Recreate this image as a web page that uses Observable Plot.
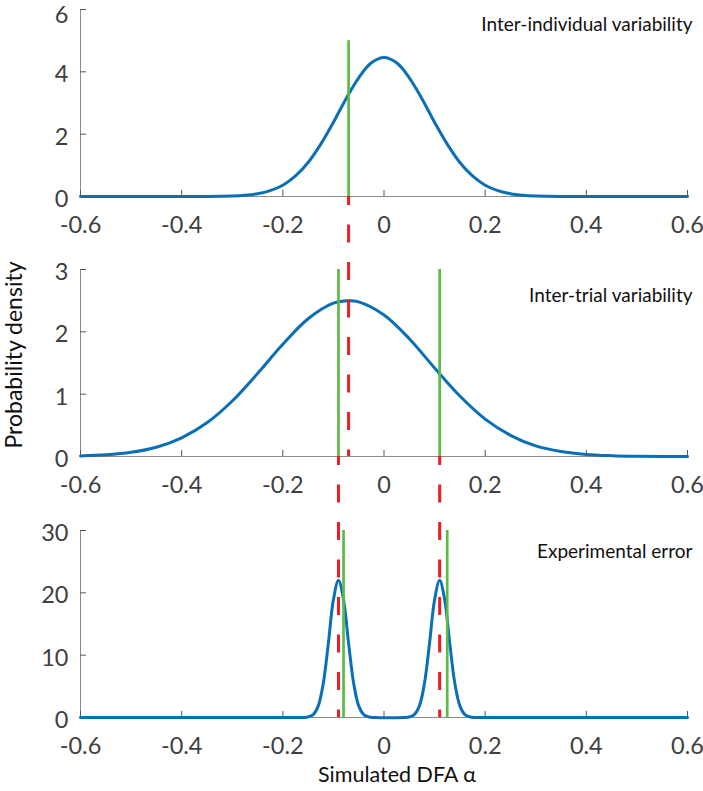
<!DOCTYPE html>
<html>
<head>
<meta charset="utf-8">
<script src="https://cdn.jsdelivr.net/npm/d3@7"></script>
<script src="https://cdn.jsdelivr.net/npm/@observablehq/plot@0.6"></script>
<style>
  html, body { margin: 0; padding: 0; background: #fff; }
  #wrap { position: relative; width: 703px; height: 791px; font-family: Lato, "Open Sans", sans-serif; }
  #wrap svg { display: block; }
  .ylab { position: absolute; left: 13px; top: 355px; transform: translate(-50%, -50%) rotate(-90deg); white-space: nowrap; font-size: 23px; line-height: 1; color: #111; }
  .xlab { position: absolute; left: 318px; top: 763px; white-space: nowrap; font-size: 21.5px; line-height: 1.1; color: #111; }
</style>
</head>
<body>
<div id="wrap"></div>
<script>
// ---- data ----
const xTicks = [-0.6, -0.4, -0.2, 0, 0.2, 0.4, 0.6];
const yTicks1 = [0, 2, 4, 6];
const yTicks2 = [0, 1, 2, 3];
const yTicks3 = [0, 10, 20, 30];

const labels = ["Inter-individual variability", "Inter-trial variability", "Experimental error"];

// Panel 1: inter-individual variability density
const x1 = [-0.6, -0.35, -0.3, -0.275, -0.25, -0.225, -0.2, -0.175, -0.15, -0.125, -0.1, -0.075, -0.05, -0.025, 0,
            0.025, 0.05, 0.075, 0.1, 0.125, 0.15, 0.175, 0.2, 0.225, 0.25, 0.275, 0.3, 0.35, 0.6];
const y1 = [0, 0.003, 0.016, 0.039, 0.089, 0.19, 0.36, 0.66, 1.09, 1.68, 2.38, 3.14, 3.81, 4.29, 4.46,
            4.29, 3.81, 3.14, 2.38, 1.68, 1.09, 0.66, 0.36, 0.19, 0.089, 0.039, 0.016, 0.003, 0];
const green1 = [-0.07];
const greenTop1 = 5;

// Panel 2: inter-trial variability density
const x2 = [-0.6, -0.55, -0.5, -0.45, -0.4, -0.35, -0.3, -0.25, -0.2, -0.15, -0.1, -0.07, -0.05, 0,
            0.05, 0.1, 0.15, 0.2, 0.25, 0.3, 0.35, 0.4, 0.45, 0.5, 0.55, 0.6];
const y2 = [0.01, 0.028, 0.068, 0.149, 0.30, 0.54, 0.89, 1.33, 1.80, 2.21, 2.46, 2.50, 2.48, 2.27,
            1.89, 1.42, 0.97, 0.60, 0.34, 0.17, 0.08, 0.033, 0.013, 0.004, 0.001, 0];
const green2 = [-0.09, 0.11];
const greenTop2 = 3;
const red2 = [-0.07];

// Panel 3: experimental error densities
const x3 = [-0.6, -0.17, -0.16, -0.15, -0.14, -0.13, -0.12, -0.11, -0.1, -0.09, -0.08, -0.07, -0.06, -0.05, -0.04, -0.03, -0.02,
            0.04, 0.05, 0.06, 0.07, 0.08, 0.09, 0.1, 0.11, 0.12, 0.13, 0.14, 0.15, 0.16, 0.17, 0.18, 0.19, 0.6];
const y3 = [0, 0, 0.01, 0.09, 0.46, 1.86, 5.49, 11.9, 18.9, 22, 18.9, 11.9, 5.49, 1.86, 0.46, 0.09, 0.01,
            0.01, 0.09, 0.46, 1.86, 5.49, 11.9, 18.9, 22, 18.9, 11.9, 5.49, 1.86, 0.46, 0.09, 0.01, 0, 0];
const green3 = [-0.08, 0.125];
const greenTop3 = 30;
const red3 = [-0.09, 0.11];

// ---- drawing ----
const BLUE = "#0a6fb7", GREEN = "#5cba47", RED = "#ee1c25";
const AXIS = "#8a8a8a", TEXT = "#404040";
const W = 703, ML = 80, MR = 16, FH = 187;
const FW = W - ML - MR;

function panel({xs, ys, yTicks, topDy, greens, greenTop, reds, redReach, label, labelDy, marginTop, marginBottom}) {
  const data = xs.map((x, i) => ({x, y: ys[i]}));
  const lower = yTicks.slice(0, -1), top = yTicks.slice(-1);
  const yAxisOpts = {tickSize: 0, tickPadding: 12, tickFormat: d => String(d), label: null, fill: TEXT};
  return Plot.plot({
    width: W,
    height: marginTop + FH + marginBottom,
    marginLeft: ML, marginRight: MR, marginTop, marginBottom,
    style: {overflow: "visible", fontFamily: "Lato, 'Open Sans', sans-serif", fontSize: "23.5px", background: "transparent"},
    x: {domain: [-0.6, 0.6]},
    y: {domain: [yTicks[0], yTicks[yTicks.length - 1]]},
    marks: [
      Plot.ruleY([yTicks[0]], {stroke: AXIS, strokeWidth: 1}),
      Plot.ruleX([-0.6], {stroke: AXIS, strokeWidth: 1}),
      Plot.tickX(xTicks, {x: d => d, stroke: "#555", insetTop: FH - 6}),
      Plot.tickY(yTicks, {y: d => d, stroke: "#555", insetRight: FW - 6}),
      Plot.axisX({ticks: xTicks, tickSize: 0, tickPadding: 20, tickFormat: d => String(d), label: null, fill: TEXT}),
      Plot.axisY({...yAxisOpts, ticks: lower, dy: 3}),
      Plot.axisY({...yAxisOpts, ticks: top, dy: topDy}),
      Plot.line(data, {x: "x", y: "y", stroke: BLUE, strokeWidth: 3, curve: "catmull-rom"}),
      Plot.ruleX(greens, {x: d => d, y1: yTicks[0], y2: greenTop, stroke: GREEN, strokeWidth: 2.7}),
      reds ? Plot.ruleX(reds, {x: d => d, stroke: RED, strokeWidth: 3, strokeDasharray: "18,19.5", strokeDashoffset: 9, insetTop: -redReach}) : null,
      Plot.text([label], {frameAnchor: "top-right", text: d => d, dx: 5, dy: labelDy, lineAnchor: "middle", textAnchor: "end", fontSize: 19, fill: "#111"})
    ]
  });
}

const wrap = document.getElementById("wrap");
wrap.append(panel({xs: x1, ys: y1, yTicks: yTicks1, topDy: 6, greens: green1, greenTop: greenTop1, reds: null, redReach: 0,
  label: labels[0], labelDy: 15, marginTop: 9, marginBottom: 44}));
wrap.append(panel({xs: x2, ys: y2, yTicks: yTicks2, topDy: 3, greens: green2, greenTop: greenTop2, reds: red2, redReach: 29 + 44,
  label: labels[1], labelDy: 26, marginTop: 29, marginBottom: 44}));
wrap.append(panel({xs: x3, ys: y3, yTicks: yTicks3, topDy: 3, greens: green3, greenTop: greenTop3, reds: red3, redReach: 30 + 44,
  label: labels[2], labelDy: 21, marginTop: 30, marginBottom: 74}));

const yl = document.createElement("div");
yl.className = "ylab"; yl.textContent = "Probability density";
wrap.append(yl);
const xl = document.createElement("div");
xl.className = "xlab"; xl.textContent = "Simulated DFA α";
wrap.append(xl);
</script>
</body>
</html>
